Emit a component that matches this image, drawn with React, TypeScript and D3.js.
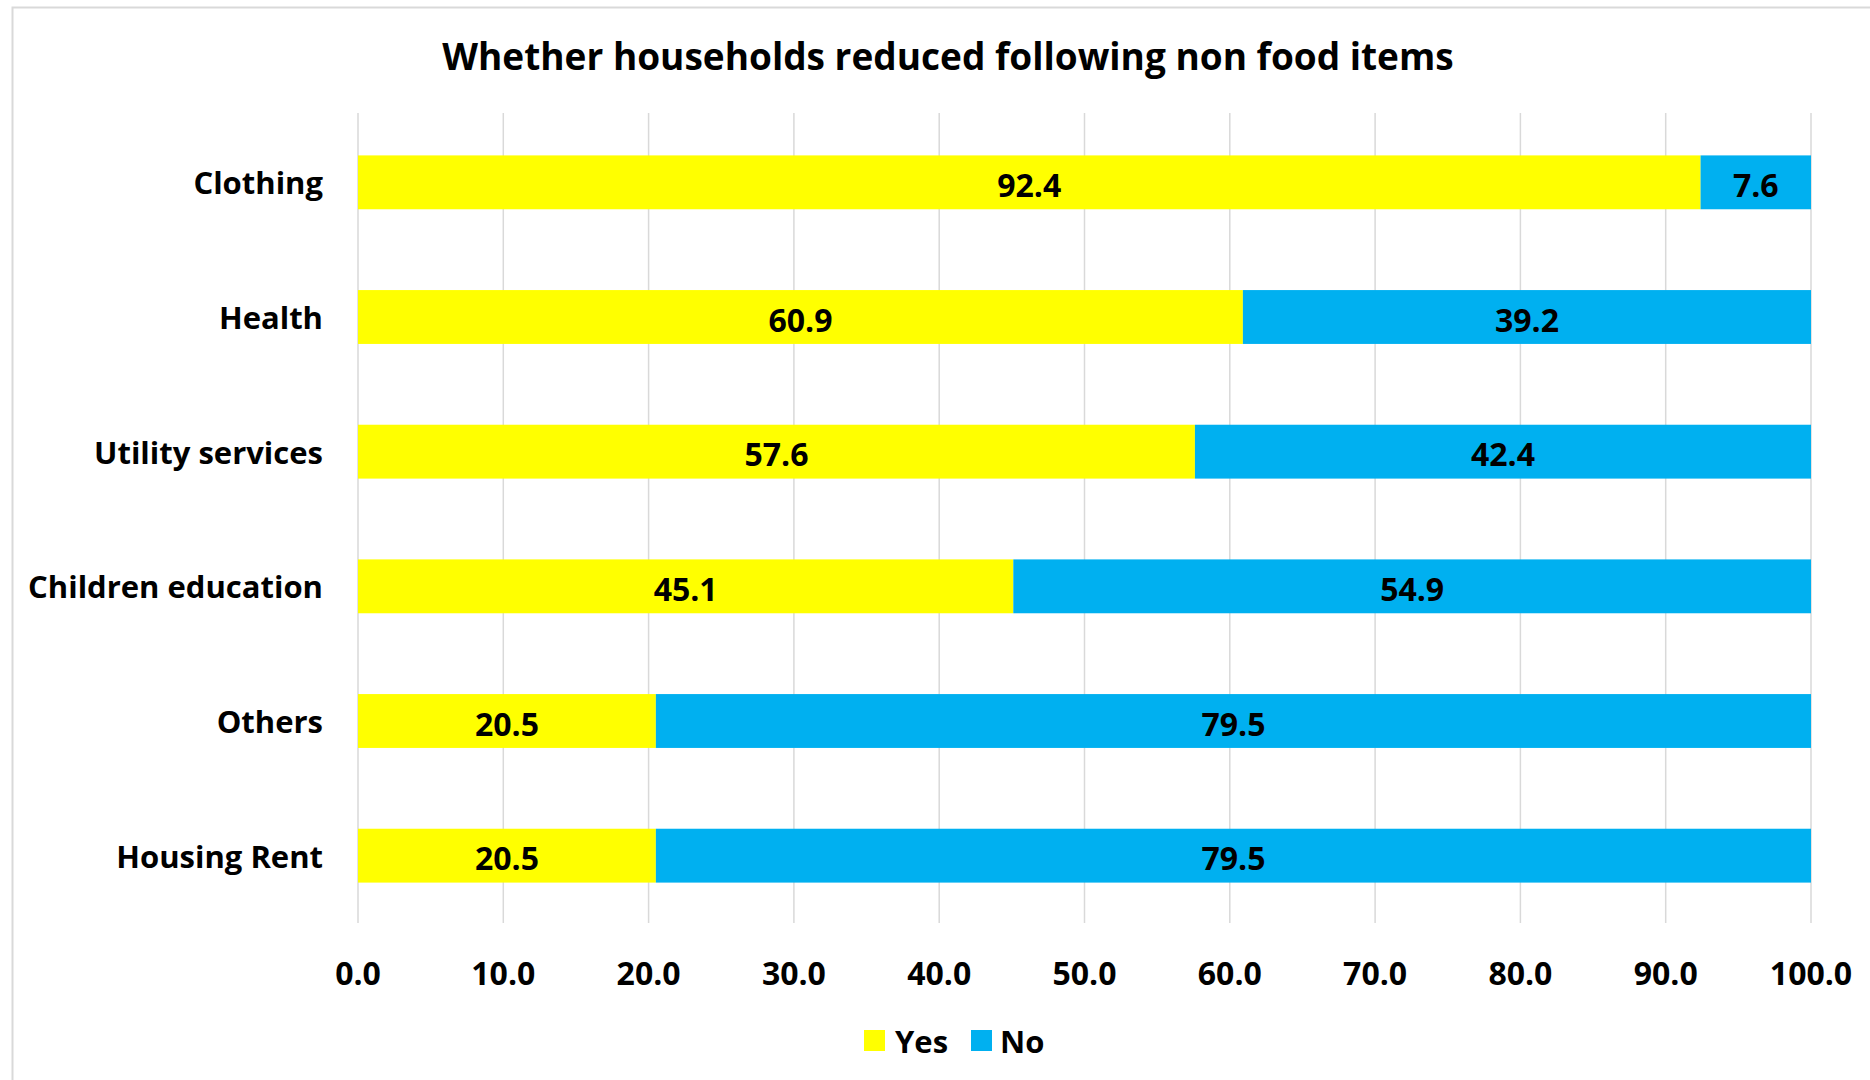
import React from "react";
import * as d3 from "d3";

const categories = ["Clothing", "Health", "Utility services", "Children education", "Others", "Housing Rent"];
const yesValues = [92.4, 60.9, 57.6, 45.1, 20.5, 20.5];
const noValues = [7.6, 39.2, 42.4, 54.9, 79.5, 79.5];
const seriesNames = ["Yes", "No"];
const seriesColors = ["#FFFF00", "#00B0F0"];
const xTicks = [0, 10, 20, 30, 40, 50, 60, 70, 80, 90, 100];
const title = "Whether households reduced following non food items";

const FONT = "'Open Sans', Lato, sans-serif";

export default function App() {
  const W = 1870, H = 1080;
  const x = d3.scaleLinear().domain([0, 100]).range([358, 1811]);
  const y = d3.scaleBand<string>().domain(categories).range([115, 923]).paddingInner(0.6).paddingOuter(0.3);
  const rows = categories.map((c, i) => ({ c, vals: [yesValues[i], noValues[i]] }));

  return (
    <svg width={W} height={H} style={{ position: "absolute", left: 0, top: 0, background: "#fff" }} fontFamily={FONT}>
      <rect x={0} y={0} width={W} height={H} fill="#fff" />
      <rect x={12.5} y={7.5} width={1950} height={1150} fill="#fff" stroke="#D9D9D9" strokeWidth={2} />
      <text x={948} y={55} textAnchor="middle" dominantBaseline="central" fontSize={37} fontWeight={700} fill="#000">{title}</text>
      {xTicks.map((t) => (
        <line key={"g" + t} x1={x(t)} x2={x(t)} y1={113} y2={923} stroke="#D9D9D9" strokeWidth={1.5} />
      ))}
      {rows.map((r) => {
        let acc = 0;
        return (
          <g key={r.c}>
            {r.vals.map((v, si) => {
              const x0 = x(acc);
              acc += v;
              const x1 = x(Math.min(acc, 100));
              return (
                <g key={si}>
                  <rect x={x0} y={y(r.c)} width={x1 - x0} height={y.bandwidth()} fill={seriesColors[si]} />
                  <text x={(x0 + x1) / 2} y={y(r.c)! + y.bandwidth() / 2 + 2} textAnchor="middle" dominantBaseline="central" fontSize={32} fontWeight={700} fill="#000">{v.toFixed(1)}</text>
                </g>
              );
            })}
            <text x={323} y={y(r.c)! + y.bandwidth() / 2} textAnchor="end" dominantBaseline="central" fontSize={31} fontWeight={700} fill="#000">{r.c}</text>
          </g>
        );
      })}
      {xTicks.map((t) => (
        <text key={"t" + t} x={x(t)} y={972} textAnchor="middle" dominantBaseline="central" fontSize={32} fontWeight={700} fill="#000">{t.toFixed(1)}</text>
      ))}
      <g>
        <rect x={864} y={1030} width={21} height={21} fill={seriesColors[0]} />
        <text x={895} y={1041} dominantBaseline="central" fontSize={31} fontWeight={700} fill="#000">{seriesNames[0]}</text>
        <rect x={971} y={1030} width={21} height={21} fill={seriesColors[1]} />
        <text x={1000} y={1041} dominantBaseline="central" fontSize={31} fontWeight={700} fill="#000">{seriesNames[1]}</text>
      </g>
    </svg>
  );
}
